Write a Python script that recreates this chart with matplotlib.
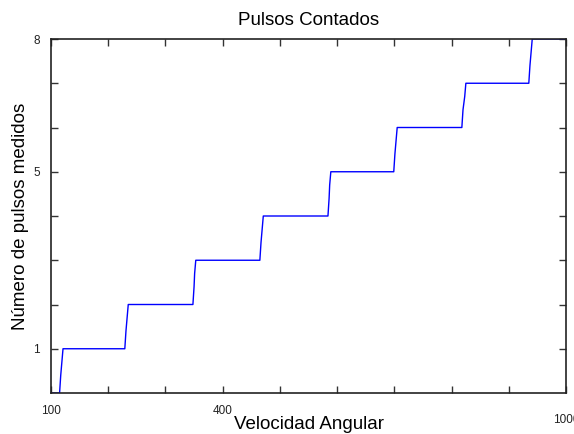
import matplotlib
matplotlib.use("Agg")
import matplotlib.pyplot as plt
import matplotlib.transforms as mtransforms

plt.rcParams['font.family'] = ['Liberation Sans', 'DejaVu Sans']

# datos
velocidad = [100, 115, 117, 119, 121, 229, 231, 233, 235, 348, 350, 351, 353,
             465, 467, 469, 471, 584, 586, 587, 589, 699, 701, 703, 705,
             818, 820, 823, 825, 935, 937, 939, 941, 1000]
pulsos = [0, 0, 0.4, 0.7, 1, 1, 1.4, 1.7, 2, 2, 2.4, 2.7, 3,
          3, 3.4, 3.7, 4, 4, 4.4, 4.7, 5, 5, 5.4, 5.7, 6,
          6, 6.4, 6.7, 7, 7, 7.4, 7.7, 8, 8]

xticks = [100, 200, 300, 400, 500, 600, 700, 800, 900, 1000]
xlabels = ['100', '', '', '400', '', '', '', '', '', '1000']
yticks = [1, 2, 3, 4, 5, 6, 7, 8]
ylabels = ['1', '', '', '', '5', '', '', '8']

fig = plt.figure(figsize=(5.74, 4.34), dpi=100)
ax = fig.add_axes([51/574, 1 - 393/434, 515/574, 354/434])

ax.plot(velocidad, pulsos, color='#0000ff', lw=1)

ax.set_xlim(100, 1000)
ax.set_ylim(0, 8)
ax.set_xticks(xticks)
ax.set_xticklabels(xlabels)
ax.set_yticks(yticks)
ax.set_yticklabels(ylabels)
ax.tick_params(direction='in', length=5, width=1, colors='#333333',
               labelsize=8.5, top=True, right=True, labelcolor='#222222')
ax.tick_params(axis='x', pad=9)
ax.tick_params(axis='y', pad=8)

# la etiqueta 1000 aparece un poco mas abajo
lbl = ax.get_xticklabels()[-1]
lbl.set_transform(lbl.get_transform() + mtransforms.ScaledTranslation(0, -6/72, fig.dpi_scale_trans))

for s in ax.spines.values():
    s.set_color('#222222')
    s.set_linewidth(1.2)

ax.set_title('Pulsos Contados', fontsize=13.5, pad=10)
ax.set_xlabel('Velocidad Angular', fontsize=13.5, va='center')
ax.xaxis.set_label_coords(0.5, -0.09)
ax.set_ylabel('Número de pulsos medidos', fontsize=13.5, va='center')
ax.yaxis.set_label_coords(-0.06, 0.5)

fig.savefig('out.png', dpi=100)
